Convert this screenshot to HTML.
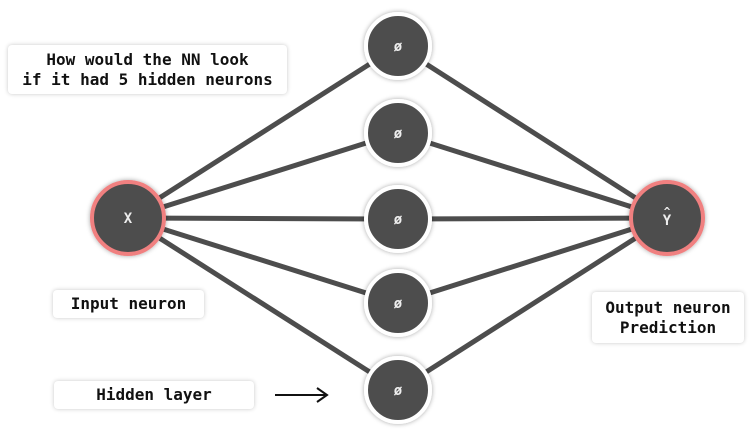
<!DOCTYPE html>
<html><head><style>
body{margin:0;width:750px;height:441px;background:#fff;overflow:hidden;position:relative;font-family:"DejaVu Sans Mono","Liberation Mono",monospace;}
.box{position:absolute;background:#fff;border-radius:4px;box-shadow:0 0 4px rgba(0,0,0,0.22);font-weight:bold;font-size:16px;color:#111;text-align:center;line-height:20px;display:flex;align-items:center;justify-content:center;}
svg{position:absolute;left:0;top:0}
</style></head><body>
<svg width="750" height="441">
<defs><filter id="s" x="-30%" y="-30%" width="160%" height="160%"><feDropShadow dx="0" dy="0" stdDeviation="2.5" flood-color="#000" flood-opacity="0.35"/></filter></defs>
<g stroke="#4d4d4d" stroke-width="5">
<line x1="128" y1="218" x2="398" y2="46"/><line x1="128" y1="218" x2="398" y2="133"/><line x1="128" y1="218" x2="398" y2="219"/><line x1="128" y1="218" x2="398" y2="303"/><line x1="128" y1="218" x2="398" y2="390"/>
<line x1="667" y1="218" x2="398" y2="46"/><line x1="667" y1="218" x2="398" y2="133"/><line x1="667" y1="218" x2="398" y2="219"/><line x1="667" y1="218" x2="398" y2="303"/><line x1="667" y1="218" x2="398" y2="390"/>
</g>
<g filter="url(#s)">
<circle cx="128" cy="218" r="36" fill="#4d4d4d" stroke="#f08080" stroke-width="4"/>
<circle cx="667" cy="218" r="36" fill="#4d4d4d" stroke="#f08080" stroke-width="4"/>
<g fill="#4d4d4d" stroke="#fff" stroke-width="4">
<circle cx="398" cy="46" r="32"/><circle cx="398" cy="133" r="32"/><circle cx="398" cy="219" r="32"/><circle cx="398" cy="303" r="32"/><circle cx="398" cy="390" r="32"/>
</g></g>
<g fill="#eee" font-family="DejaVu Sans Mono, Liberation Mono, monospace" font-weight="bold" font-size="14" text-anchor="middle">
<text x="128" y="223">X</text>
<text x="667" y="225">Y</text><text x="667" y="215" font-size="11">^</text>
<text x="398" y="51">ø</text><text x="398" y="138">ø</text><text x="398" y="224">ø</text><text x="398" y="308">ø</text><text x="398" y="395">ø</text>
</g>
<line x1="275" y1="395" x2="325" y2="395" stroke="#111" stroke-width="2"/>
<polyline points="317,388 327,395 317,402" fill="none" stroke="#111" stroke-width="2"/>
</svg>
<div class="box" style="left:8px;top:45px;width:279px;height:49px;">How would the NN look<br>if it had 5 hidden neurons</div>
<div class="box" style="left:53px;top:290px;width:151px;height:28px;">Input neuron</div>
<div class="box" style="left:54px;top:381px;width:200px;height:28px;">Hidden layer</div>
<div class="box" style="left:592px;top:292px;width:152px;height:51px;">Output neuron<br>Prediction</div>
</body></html>
